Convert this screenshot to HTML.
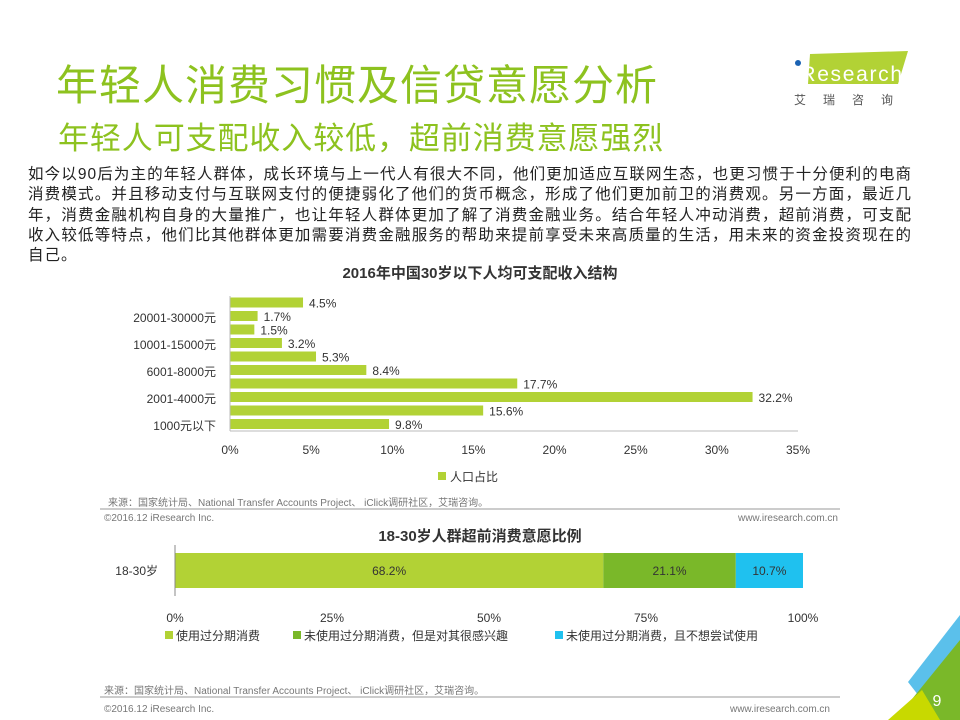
<!DOCTYPE html>
<html><head><meta charset="utf-8">
<style>
body{margin:0;width:960px;height:720px;overflow:hidden;background:#fff;font-family:"Liberation Sans","Noto Sans CJK SC",sans-serif;position:relative}
.abs{position:absolute}
</style></head><body>
<div class="abs" style="left:56px;top:52px;font-size:42px;color:#8dc21f;letter-spacing:1px;white-space:nowrap">年轻人消费习惯及信贷意愿分析</div>
<div class="abs" style="left:58px;top:113px;font-size:31px;letter-spacing:0.9px;color:#8dc21f;white-space:nowrap">年轻人可支配收入较低，超前消费意愿强烈</div>
<div class="abs" style="left:790px;top:48px;width:125px;height:60px">
<svg width="125" height="60"><polygon points="20,6 118,3 108,36 18,36" fill="#b2d235"/><circle cx="8" cy="15" r="3" fill="#1a62b3"/><text x="4" y="33" font-size="21" fill="#fff" font-family="Liberation Sans,sans-serif" textLength="108">iResearch</text><text x="4" y="56" font-size="12" fill="#555" letter-spacing="17" font-family="Noto Sans CJK SC,sans-serif">艾瑞咨询</text></svg></div>
<div class="abs" style="left:28px;top:165px;width:884px;font-size:15.5px;letter-spacing:1px;line-height:20.3px;color:#222;text-align:justify">如今以90后为主的年轻人群体，成长环境与上一代人有很大不同，他们更加适应互联网生态，也更习惯于十分便利的电商消费模式。并且移动支付与互联网支付的便捷弱化了他们的货币概念，形成了他们更加前卫的消费观。另一方面，最近几年，消费金融机构自身的大量推广，也让年轻人群体更加了解了消费金融业务。结合年轻人冲动消费，超前消费，可支配收入较低等特点，他们比其他群体更加需要消费金融服务的帮助来提前享受未来高质量的生活，用未来的资金投资现在的自己。</div>
<svg class="abs" style="left:0;top:0" width="960" height="720" id="chart">
<text x="480" y="278" text-anchor="middle" font-size="15" font-weight="bold" fill="#333">2016年中国30岁以下人均可支配收入结构</text>
<line x1="100" y1="509" x2="840" y2="509" stroke="#999" stroke-width="1"/>
<text x="108" y="506" font-size="10" fill="#777">来源：国家统计局、National Transfer Accounts Project、 iClick调研社区，艾瑞咨询。</text>
<text x="104" y="521" font-size="10" fill="#777">©2016.12 iResearch Inc.</text>
<text x="838" y="521" font-size="10" fill="#777" text-anchor="end">www.iresearch.com.cn</text>
<text x="480" y="541" text-anchor="middle" font-size="15" font-weight="bold" fill="#333">18-30岁人群超前消费意愿比例</text>
<line x1="100" y1="697" x2="840" y2="697" stroke="#999" stroke-width="1"/>
<text x="104" y="694" font-size="10" fill="#777">来源：国家统计局、National Transfer Accounts Project、 iClick调研社区，艾瑞咨询。</text>
<text x="104" y="712" font-size="10" fill="#777">©2016.12 iResearch Inc.</text>
<text x="830" y="712" font-size="10" fill="#777" text-anchor="end">www.iresearch.com.cn</text>
<polygon points="908,682 960,615 960,655 922,700" fill="#5bc0eb"/>
<polygon points="895,720 960,640 960,720" fill="#7ab829"/>
<polygon points="888,720 922,690 940,720" fill="#c8d900"/>
<text x="937" y="706" font-size="16" fill="#fff" text-anchor="middle">9</text>
</svg>
<script>
const incomeValues=[4.5,1.7,1.5,3.2,5.3,8.4,17.7,32.2,15.6,9.8];
const incomeLabels=["","20001-30000元","","10001-15000元","","6001-8000元","","2001-4000元","","1000元以下"];
const xTicks=[0,5,10,15,20,25,30,35];
const stackValues=[68.2,21.1,10.7];
const stackNames=["使用过分期消费","未使用过分期消费，但是对其很感兴趣","未使用过分期消费，且不想尝试使用"];
const stackTicks=[0,25,50,75,100];
const NS="http://www.w3.org/2000/svg";
const svg=document.getElementById('chart');
function mk(t,a,txt){const e=document.createElementNS(NS,t);for(const k in a)e.setAttribute(k,a[k]);if(txt!==undefined)e.textContent=txt;svg.appendChild(e);return e;}
const x0=230,x1=798,xmax=35;
const xs=v=>x0+(x1-x0)*v/xmax;
const rowTop=296,rowH=13.5;
incomeValues.forEach((v,i)=>{
 const y=rowTop+i*rowH+1.5;
 const r=mk('rect',{x:x0,y:y,width:xs(v)-x0,height:10,fill:'#b2d235'});
 
 
 const t=mk('text',{x:xs(v)+6,y:y+10,'font-size':12,fill:'#333'},v.toFixed(1)+'%');
 
 
 if(incomeLabels[i]){const l=mk('text',{x:216,y:y+11,'font-size':12,fill:'#333','text-anchor':'end'},incomeLabels[i]);
 
 }
});
mk('line',{x1:x0,y1:296,x2:x0,y2:431,stroke:'#bbb'});
mk('line',{x1:x0,y1:431,x2:x1,y2:431,stroke:'#bbb'});
xTicks.forEach(v=>{const t=mk('text',{x:xs(v),y:454,'font-size':12,fill:'#333','text-anchor':'middle'},v+'%');
 
 });
mk('rect',{x:438,y:472,width:8,height:8,fill:'#b2d235'});
const lg=mk('text',{x:450,y:481,'font-size':12,fill:'#333'},'人口占比');


const s0=175,s1=803;
const ss=v=>s0+(s1-s0)*v/100;
const cols=['#b2d235','#7ab829','#1fc1ef'];
let acc=0;
stackValues.forEach((v,i)=>{
 const r=mk('rect',{x:ss(acc),y:553,width:ss(acc+v)-ss(acc),height:35,fill:cols[i]});
 
 
 const t=mk('text',{x:(ss(acc)+ss(acc+v))/2,y:575,'font-size':12,fill:'#333','text-anchor':'middle'},v.toFixed(1)+'%');
 
 
 acc+=v;
});
mk('line',{x1:s0,y1:545,x2:s0,y2:596,stroke:'#888'});
mk('text',{x:158,y:575,'font-size':12,fill:'#333','text-anchor':'end'},'18-30岁');
stackTicks.forEach(v=>{const t=mk('text',{x:ss(v),y:622,'font-size':12,fill:'#333','text-anchor':'middle'},v+'%');
 
 });
const lx=[165,293,555];
stackNames.forEach((n,i)=>{
 mk('rect',{x:lx[i],y:631,width:8,height:8,fill:cols[i]});
 const t=mk('text',{x:lx[i]+11,y:640,'font-size':12,fill:'#333'},n);
 
 
});
</script>
</body></html>
